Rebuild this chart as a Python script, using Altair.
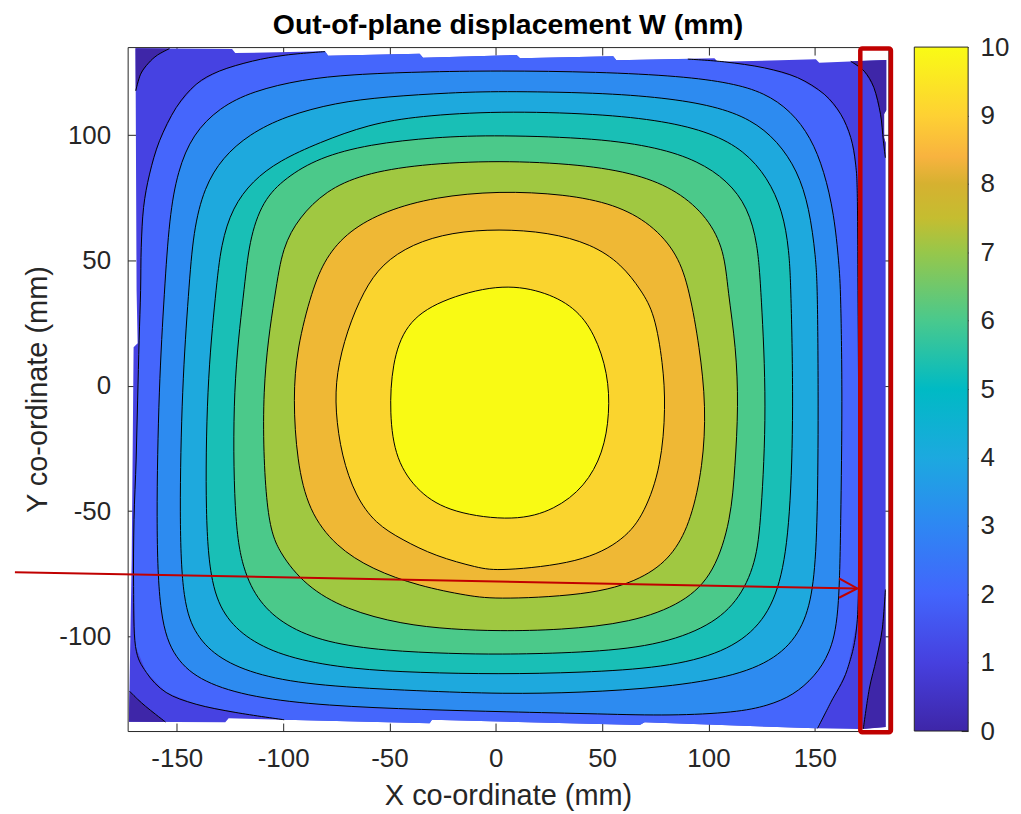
import altair as alt
import pandas as pd

FONT = "Liberation Sans"
INK = "#262626"

# ---------------- axes ----------------
x_domain = [-173.1, 184.6]
y_domain = [-137.8, 135.2]
x_ticks = [-150, -100, -50, 0, 50, 100, 150]
y_ticks = [-100, -50, 0, 50, 100]

# contour levels (W, mm) and band colours (colour of the lower level of each band)
levels = [0, 1, 2, 3, 4, 5, 6, 7, 8, 9, 10]
level_colors = ["#3E26A8", "#4642E2", "#4566FC", "#2D8BF0", "#1EA9DD", "#19BFB6",
                "#4BC98A", "#A0C841", "#EFB835", "#FAD42E", "#F9FA14"]

# colour bar
cbar_ticks = [0, 1, 2, 3, 4, 5, 6, 7, 8, 9, 10]
cbar_stop_pos = [0.0, 0.1, 0.2, 0.3, 0.4, 0.5, 0.6, 0.7, 0.75, 0.8, 0.84, 0.9, 1.0]
cbar_stop_col = ["#3E26A8", "#4640DF", "#4265FC", "#2E87F3", "#1CA9DF", "#00BAC4",
                 "#49C98D", "#97C74A", "#C5BD30", "#D6B130", "#F8B33F", "#FED133", "#F9FB15"]

# ---------------- measured-area outline (mm) ----------------
top_x = [-169.4, -124.0, -122.5, -80.3, -78.8, -35.8, -34.2, 9.8, 11.4, 55.2, 56.7, 102.8, 104.4, 150.5, 152.1, 183.6]
top_y = [134.7, 134.4, 132.8, 133.5, 131.7, 132.5, 130.9, 132.0, 130.7, 131.5, 129.9, 130.7, 129.3, 130.3, 128.9, 130.0]
right_x = [183.6, 183.6, 182.6, 182.6, 183.3, 183.3]
right_y = [130.0, 110.0, 108.5, 99.0, 97.0, -136.2]
bottom_x = [183.3, 170.8, 150.5, 70.0, 67.7, -30.0, -31.1, -125.6, -127.2, -172.5]
bottom_y = [-136.2, -137.0, -136.7, -134.3, -135.4, -133.3, -134.7, -132.7, -134.3, -134.1]
left_x = [-172.5, -171.2, -170.3, -168.4, -168.9, -169.4]
left_y = [-134.1, -69.4, 15.4, 17.0, 38.1, 134.7]

# ---------------- open contour arcs ----------------
# W = 1 (corner arcs)
c1TL_x = [-169.3, -167.0, -163.3, -159.1, -153.4]
c1TL_y = [117.7, 124.4, 128.8, 132.0, 134.6]
c1TR_x = [166.9, 173.2, 177.8, 180.9, 182.2, 183.2]
c1TR_y = [129.5, 125.6, 119.0, 108.4, 98.0, 91.0]
c1BR_x = [183.2, 181.7, 178.9, 175.6, 172.8]
c1BR_y = [-81.3, -97.2, -109.2, -121.1, -137.0]
c1BL_x = [-172.2, -168.4, -164.7, -160.0, -155.3]
c1BL_y = [-121.9, -125.1, -127.9, -131.1, -134.2]
# W = 2 (left and right arcs, cut by the top and bottom edges)
c2L_x = [-80.3, -98.7, -114.4, -130.0, -140.9, -150.3, -158.1, -162.8, -165.6, -166.7, -167.0,
         -167.7, -168.4, -169.1, -170.1, -170.3, -169.4, -164.3, -155.0, -140.9, -122.2, -99.5]
c2L_y = [133.4, 132.0, 129.6, 125.6, 120.3, 111.0, 97.8, 84.5, 71.2, 55.3, 38.1,
         18.2, -5.7, -29.6, -53.4, -80.1, -104.0, -114.4, -122.4, -127.1, -130.4, -133.3]
c2R_x = [90.3, 107.5, 126.3, 141.9, 154.4, 162.2, 166.9, 169.2, 170.0, 170.3, 170.6, 170.6, 170.0, 165.3, 157.5, 151.3]
c2R_y = [130.4, 129.3, 126.9, 123.0, 116.4, 108.4, 99.1, 88.5, 75.2, 38.1, -5.7, -53.4, -93.2, -113.2, -126.4, -136.7]

# ---------------- closed contours W = 3 ... 10 ----------------
c3_x = [1.3, 48.2, 87.2, 110.6, 126.3, 138.8, 148.2, 154.4, 159.1, 161.4, 162.2, 163.0, 162.2, 161.4, 157.0,
        150.0, 140.0, 128.0, 113.0, 82.0, 50.5, 3.6, -33.4, -80.3, -114.4, -137.8, -151.1, -158.2, -159.7,
        -158.4, -155.8, -153.5, -149.6, -142.5, -130.0, -114.4, -91.0, -67.5, -36.3]
c3_y = [125.8, 125.3, 123.6, 120.9, 117.0, 109.7, 99.1, 85.8, 68.5, 48.6, 38.0, -5.0, -55.0, -93.2, -107.0,
        -116.0, -123.5, -127.7, -130.4, -131.7, -131.0, -130.1, -129.3, -127.7, -124.4, -118.4, -109.1, -93.2, -55.0,
        0.0, 38.0, 67.2, 85.8, 100.4, 111.0, 117.6, 122.3, 124.3, 125.3]
c4_x = [1.3, 48.2, 79.4, 102.8, 120.0, 132.5, 141.9, 147.4, 150.5, 151.3, 151.7, 151.3, 149.7, 145.0, 134.1,
        113.8, 79.4, 40.0, 3.6, -36.3, -83.1, -111.3, -130.0, -141.0, -147.2, -148.8, -147.5, -144.4, -142.2,
        -137.1, -128.5, -116.0, -98.8, -75.3, -51.9, -20.7]
c4_y = [117.6, 117.0, 115.0, 111.7, 106.4, 97.7, 85.8, 71.2, 51.3, 38.0, -8.3, -53.4, -79.9, -95.9, -107.8,
        -115.8, -120.4, -122.5, -123.0, -121.8, -119.8, -115.8, -109.1, -99.9, -86.6, -53.4, 0.0, 38.0, 61.9,
        79.2, 91.1, 100.4, 107.7, 113.0, 115.4, 117.0]
c5_x = [1.3, 48.2, 79.4, 101.3, 116.9, 127.8, 134.9, 138.0, 138.8, 140.0, 138.5, 134.1, 124.7, 107.5, 79.4,
        40.0, 1.3, -36.3, -67.5, -95.6, -114.4, -126.9, -133.9, -136.6, -135.9, -131.6, -129.2, -123.8, -114.4,
        -101.9, -83.1, -59.7, -36.3]
c5_y = [109.7, 108.6, 105.7, 101.0, 93.8, 83.1, 69.9, 54.0, 38.0, -8.3, -53.4, -79.9, -95.9, -106.5, -112.5,
        -114.5, -115.1, -114.5, -113.1, -109.1, -102.5, -93.2, -79.9, -53.4, 0.0, 38.0, 56.6, 71.2, 81.8,
        89.8, 97.1, 104.4, 107.7]
c6_x = [1.3, 48.2, 76.3, 95.0, 109.1, 118.5, 123.2, 124.7, 127.5, 124.7, 122.4, 113.8, 98.2, 71.6, 35.0,
        1.3, -20.7, -51.9, -80.0, -98.8, -111.3, -119.1, -123.0, -123.7, -118.3, -116.0, -109.7, -98.8, -83.1,
        -59.7, -28.5]
c6_y = [100.1, 98.8, 95.1, 89.8, 81.8, 71.2, 56.6, 38.0, -8.3, -53.4, -70.7, -86.6, -97.2, -104.5, -106.7,
        -107.2, -106.9, -105.8, -102.5, -95.9, -86.6, -73.3, -53.4, 0.0, 38.0, 57.9, 73.9, 83.1, 91.1,
        96.4, 99.3]
c7_x = [1.3, 40.3, 66.9, 85.6, 99.7, 107.5, 109.1, 113.0, 114.1, 112.5, 110.6, 102.8, 88.8, 63.8, 30.0,
        1.3, -20.7, -44.1, -70.6, -89.4, -101.9, -108.1, -110.4, -103.5, -100.3, -92.5, -80.0, -62.8, -36.3]
c7_y = [90.0, 88.4, 84.5, 77.8, 67.2, 54.0, 38.0, 15.5, -8.3, -32.2, -53.4, -74.7, -86.6, -94.6, -97.5,
        -97.9, -97.2, -95.2, -89.3, -79.9, -66.7, -53.4, 0.0, 38.0, 55.3, 67.2, 77.8, 84.5, 88.4]
c8_x = [1.3, 32.5, 56.0, 73.2, 85.6, 91.1, 95.8, 98.9, 97.4, 91.9, 84.1, 71.6, 48.2, 1.3, -12.8,
        -36.3, -58.1, -75.3, -88.0, -93.5, -95.3, -93.5, -86.5, -80.0, -69.1, -51.9, -28.5]
c8_y = [77.8, 76.5, 72.5, 64.6, 52.6, 38.0, 15.5, -8.3, -32.2, -53.4, -66.7, -76.0, -83.3, -85.3, -83.9,
        -79.9, -73.3, -64.1, -50.0, -30.0, -5.0, 15.0, 38.0, 51.3, 61.9, 69.9, 75.4]
c9_x = [1.3, 24.7, 45.0, 59.1, 68.5, 74.7, 78.6, 79.9, 77.8, 70.0, 60.6, 40.3, 1.3, -8.2, -28.5,
        -44.1, -56.6, -66.0, -72.5, -75.5, -75.0, -70.0, -62.1, -53.5, -39.4, -20.7]
c9_y = [62.6, 61.3, 56.6, 48.6, 38.0, 28.8, 8.9, -8.3, -32.2, -50.8, -61.4, -70.7, -74.0, -72.7, -68.0,
        -61.4, -55.0, -44.0, -28.0, -10.0, 5.0, 22.0, 38.0, 48.6, 56.6, 61.3]
c10_x = [1.3, 21.6, 37.2, 46.6, 52.8, 53.6, 50.5, 41.9, 27.8, 9.1, -20.7, -36.3, -47.2, -50.0, -48.8, -42.5, -26.9]
c10_y = [40.7, 38.1, 31.5, 20.8, 4.9, -11.0, -26.9, -40.2, -49.5, -54.1, -50.8, -42.8, -29.6, -11.0, 8.9, 24.8, 34.1]

# ---------------- annotations ----------------
box_x = [171.4, 185.8]
box_y = [134.6, -138.3]
arrow_part = ["shaft", "shaft", "head", "head", "head"]
arrow_x = [-226.1, 170.0, 161.4, 170.0, 161.4]
arrow_y = [-74.4, -80.9, -76.9, -80.9, -84.6]

# ---------------- build tables ----------------
def pts(xs, ys):
    return list(zip(xs, ys))

top = pts(top_x, top_y)
right = pts(right_x, right_y)
bottom = pts(bottom_x, bottom_y)
left = pts(left_x, left_y)

domain_poly = top + right[1:] + bottom[1:] + left[1:-1]
corner_polys = {
    "k_tl": pts(c1TL_x, c1TL_y) + [top[0]],
    "k_tr": pts(c1TR_x, c1TR_y) + [p for p in right if p[1] > c1TR_y[-1]][::-1],
    "k_br": pts(c1BR_x, c1BR_y) + [bottom[0]],
    "k_bl": pts(c1BL_x, c1BL_y) + [bottom[-1]],
}
region2 = (pts(c2L_x, c2L_y)
           + sorted([p for p in bottom if c2L_x[-1] < p[0] < c2R_x[-1]])
           + pts(c2R_x, c2R_y)[::-1]
           + sorted([p for p in top if c2L_x[0] < p[0] < c2R_x[0]], reverse=True))

closed = {3: (c3_x, c3_y), 4: (c4_x, c4_y), 5: (c5_x, c5_y), 6: (c6_x, c6_y),
          7: (c7_x, c7_y), 8: (c8_x, c8_y), 9: (c9_x, c9_y), 10: (c10_x, c10_y)}

rows = []
def add(name, level, plist):
    for i, (x, y) in enumerate(plist):
        rows.append({"shape": name, "level": level, "i": i, "x": x, "y": y})

add("domain", 1, domain_poly)
for k, v in corner_polys.items():
    add(k, 0, v)
add("r2", 2, region2)
for lev, (xs_, ys_) in closed.items():
    add("c%d" % lev, lev, pts(xs_, ys_))
fills = pd.DataFrame(rows)

arc_rows = []
for name, (xs_, ys_) in {"a1": (c1TL_x, c1TL_y), "a2": (c1TR_x, c1TR_y), "a3": (c1BR_x, c1BR_y),
                         "a4": (c1BL_x, c1BL_y), "a5": (c2L_x, c2L_y), "a6": (c2R_x, c2R_y)}.items():
    for i, (x, y) in enumerate(zip(xs_, ys_)):
        arc_rows.append({"arc": name, "i": i, "x": x, "y": y})
arcs = pd.DataFrame(arc_rows)

arrow = pd.DataFrame({"part": arrow_part, "i": list(range(len(arrow_x))), "x": arrow_x, "y": arrow_y})
box = pd.DataFrame({"x1": [box_x[0]], "x2": [box_x[1]], "y1": [box_y[0]], "y2": [box_y[1]]})
cbar = pd.DataFrame({"u0": [0.0], "u1": [1.0], "v0": [cbar_ticks[0]], "v1": [cbar_ticks[-1]]})

# ---------------- scales / axes ----------------
xs = alt.Scale(domain=x_domain, nice=False, zero=False)
ys = alt.Scale(domain=y_domain, nice=False, zero=False)
cs = alt.Scale(domain=levels, range=level_colors)

ax_bottom = alt.Axis(orient="bottom", values=x_ticks, domain=False, grid=False, ticks=True, tickSize=8,
                     offset=-8, tickColor=INK, tickWidth=1, labelFont=FONT, labelFontSize=26, labelColor=INK,
                     labelPadding=15, labelExpr="'' + datum.value", labelOverlap=False, labelFlush=False,
                     title="X co-ordinate (mm)", titleFont=FONT, titleFontSize=29, titleFontWeight="normal",
                     titleColor=INK, titlePadding=10)
ax_left = alt.Axis(orient="left", values=y_ticks, domain=False, grid=False, ticks=True, tickSize=8,
                   offset=-8, tickColor=INK, tickWidth=1, labelFont=FONT, labelFontSize=26, labelColor=INK,
                   labelPadding=17, labelExpr="'' + datum.value", labelOverlap=False, labelFlush=False,
                   title="Y co-ordinate (mm)", titleFont=FONT, titleFontSize=29, titleFontWeight="normal",
                   titleColor=INK, titlePadding=6)
ax_top = alt.Axis(orient="top", values=x_ticks, domain=False, grid=False, ticks=True, tickSize=8,
                  offset=-8, tickColor=INK, tickWidth=1, labels=False, title=None)
ax_right = alt.Axis(orient="right", values=y_ticks, domain=False, grid=False, ticks=True, tickSize=8,
                    offset=-8, tickColor=INK, tickWidth=1, labels=False, title=None)


def fill_layer(names, interp, outlined=False, xaxis=None, yaxis=None):
    kw = dict(filled=True, interpolate=interp)
    if outlined:
        kw.update(stroke="black", strokeWidth=1)
    return (alt.Chart(fills)
            .transform_filter(alt.FieldOneOfPredicate(field="shape", oneOf=names))
            .mark_line(**kw)
            .encode(x=alt.X("x:Q", scale=xs, axis=xaxis),
                    y=alt.Y("y:Q", scale=ys, axis=yaxis),
                    order=alt.Order("i:Q"),
                    detail="shape:N",
                    color=alt.Color("level:O", scale=cs, legend=None)))


layers = [fill_layer(["domain"], "linear-closed", xaxis=ax_bottom, yaxis=ax_left),
          fill_layer(list(corner_polys.keys()), "linear-closed", xaxis=ax_top, yaxis=ax_right),
          fill_layer(["r2"], "linear-closed")]
for lev in closed:
    layers.append(fill_layer(["c%d" % lev], "basis-closed", outlined=True))

arc_layer = alt.Chart(arcs).mark_line(color="black", strokeWidth=1, interpolate="cardinal").encode(
    x=alt.X("x:Q", scale=xs, axis=None), y=alt.Y("y:Q", scale=ys, axis=None),
    order=alt.Order("i:Q"), detail="arc:N")

box_layer = alt.Chart(box).mark_rect(filled=False, color="#C00000", strokeWidth=4.5, cornerRadius=2).encode(
    x=alt.X("x1:Q", scale=xs, axis=None), x2="x2:Q",
    y=alt.Y("y1:Q", scale=ys, axis=None), y2="y2:Q")

arrow_layer = alt.Chart(arrow).mark_line(color="#C00000", strokeWidth=2).encode(
    x=alt.X("x:Q", scale=xs, axis=None), y=alt.Y("y:Q", scale=ys, axis=None),
    order=alt.Order("i:Q"), detail="part:N")

main = alt.layer(*layers, arc_layer, box_layer, arrow_layer).resolve_axis(x="independent", y="independent")

grad = alt.LinearGradient(gradient="linear",
                          stops=[alt.GradientStop(color=c, offset=o) for o, c in zip(cbar_stop_pos, cbar_stop_col)],
                          x1=0, x2=0, y1=1, y2=0)
ax_cbar = alt.Axis(orient="right", values=cbar_ticks, domain=False, grid=False, ticks=True, tickSize=7,
                   offset=73, tickColor=INK, tickWidth=1, labelFont=FONT, labelFontSize=26, labelColor=INK,
                   labelPadding=12, labelOverlap=False, labelFlush=False, title=None)
cbar_layer = alt.Chart(cbar).mark_rect(fill=grad, stroke=INK, strokeWidth=1).encode(
    x=alt.X("u0:Q", scale=alt.Scale(domain=[0, 1], range=[789, 843], nice=False, zero=False), axis=None),
    x2="u1:Q",
    y=alt.Y("v0:Q", scale=alt.Scale(domain=[cbar_ticks[0], cbar_ticks[-1]], range=[686, 0], nice=False, zero=False),
            axis=ax_cbar),
    y2="v1:Q")

chart = (alt.layer(main, cbar_layer)
         .resolve_scale(x="independent", y="independent")
         .properties(width=763, height=686,
                     title=alt.Title("Out-of-plane displacement W (mm)", font=FONT, fontSize=28.5,
                                     fontWeight="bold", color="black", anchor="middle", frame="group", offset=-5),
                     padding={"left": 120, "top": 38, "right": 125, "bottom": 80},
                     autosize=alt.AutoSizeParams(type="none"))
         .configure_view(stroke=INK, strokeWidth=1))

chart.save("out.html", embed_options={"renderer": "svg", "actions": False})
